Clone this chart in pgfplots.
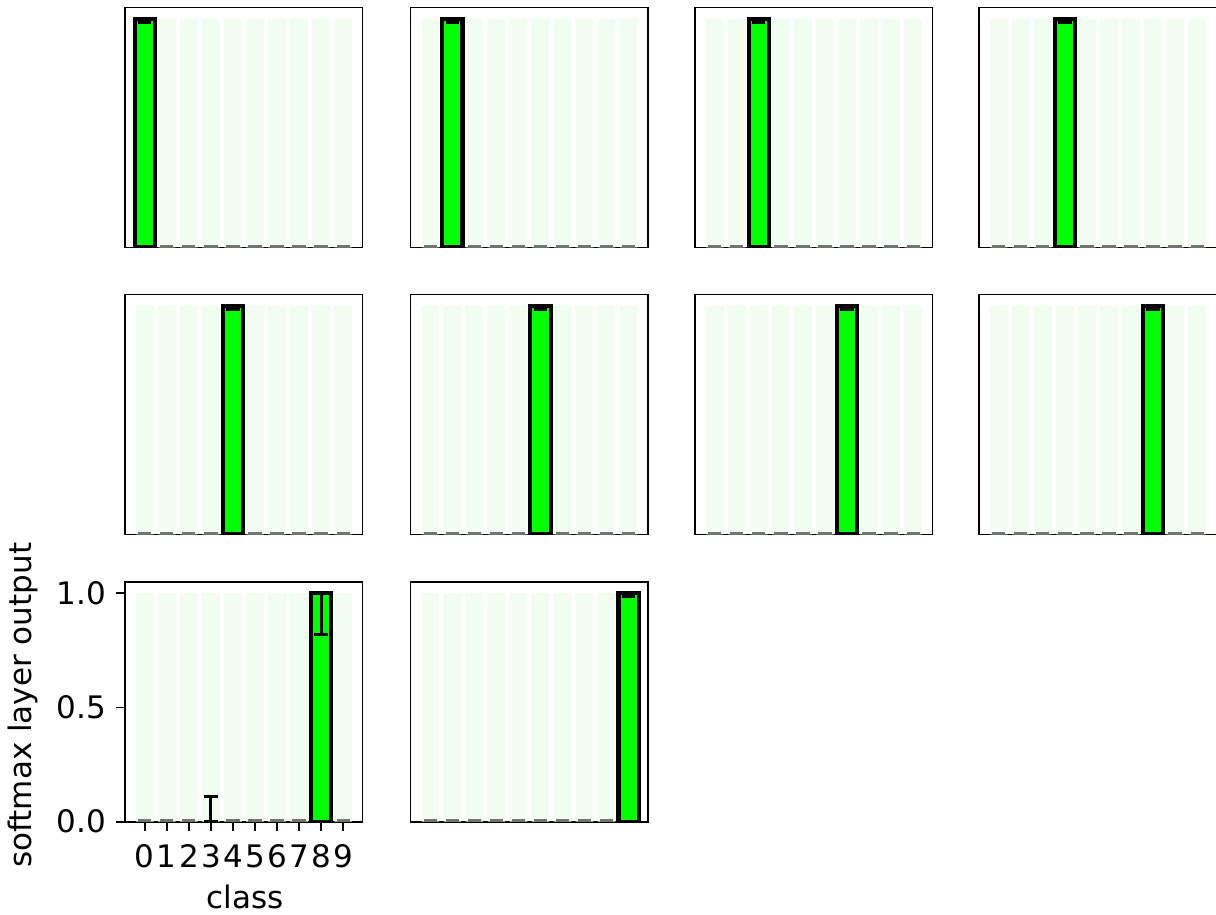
\documentclass[border=0pt]{standalone}
\usepackage{fontspec}
\setmainfont{DejaVu Sans}
\usepackage{pgfplots}
\pgfplotsset{compat=1.18}
\usepackage{pgfplotstable}

\definecolor{barlime}{RGB}{0,255,0}
\definecolor{bgstripe}{RGB}{240,253,240}
\newcommand{\lblfont}{\fontsize{15.5}{17}\selectfont}

% one full-height pale stripe behind every class
\pgfplotstableread{
x y
0 1
1 1
2 1
3 1
4 1
5 1
6 1
7 1
8 1
9 1
}\stripedata

\pgfplotsset{
  panel/.style={scale only axis, width=118.75pt, height=120pt,
    xmin=-0.9, xmax=9.88, ymin=0, ymax=1.05,
    xtick=\empty, ytick=\empty,
    axis line style={line width=0.9pt, black},
    anchor=south west},
  stripes/.style={ybar, bar width=0.8, bar shift=0pt, fill=bgstripe, draw=none},
  topbar/.style={ybar, bar width=0.92, bar shift=0pt, fill=barlime, draw=black, line width=2.1pt},
  errs/.style={draw=none, mark=none,
    error bars/.cd, y dir=both, y explicit,
    error bar style={line width=1.5pt, draw=black},
    error mark options={rotate=90, line width=1.5pt, mark size=3.3pt, draw=black}},
  zcaps/.style={only marks, mark=-, mark size=3.3pt, mark options={line width=1.3pt, draw=black!55}},
}

\begin{document}
\begin{tikzpicture}
\useasboundingbox (0,0) rectangle (608pt,457.5pt);

% ---------- row 1 ----------
\begin{axis}[panel, at={(62.5pt,333.75pt)}]
\addplot[stripes] table {\stripedata};
\addplot[topbar] coordinates {(0,1.0)};
\addplot[zcaps] coordinates {(1,0.004)(2,0.004)(3,0.004)(4,0.004)(5,0.004)(6,0.004)(7,0.004)(8,0.004)(9,0.004)};
\addplot[errs] table[x=x, y=y, y error plus=ep, y error minus=em] {
x y ep em
0 1.0 0 0.015
};
\end{axis}

\begin{axis}[panel, at={(205.25pt,333.75pt)}]
\addplot[stripes] table {\stripedata};
\addplot[topbar] coordinates {(1,1.0)};
\addplot[zcaps] coordinates {(0,0.004)(2,0.004)(3,0.004)(4,0.004)(5,0.004)(6,0.004)(7,0.004)(8,0.004)(9,0.004)};
\addplot[errs] table[x=x, y=y, y error plus=ep, y error minus=em] {
x y ep em
1 1.0 0 0.015
};
\end{axis}

\begin{axis}[panel, at={(347.5pt,333.75pt)}]
\addplot[stripes] table {\stripedata};
\addplot[topbar] coordinates {(2,1.0)};
\addplot[zcaps] coordinates {(0,0.004)(1,0.004)(3,0.004)(4,0.004)(5,0.004)(6,0.004)(7,0.004)(8,0.004)(9,0.004)};
\addplot[errs] table[x=x, y=y, y error plus=ep, y error minus=em] {
x y ep em
2 1.0 0 0.015
};
\end{axis}

\begin{axis}[panel, at={(489.5pt,333.75pt)}]
\addplot[stripes] table {\stripedata};
\addplot[topbar] coordinates {(3,1.0)};
\addplot[zcaps] coordinates {(0,0.004)(1,0.004)(2,0.004)(4,0.004)(5,0.004)(6,0.004)(7,0.004)(8,0.004)(9,0.004)};
\addplot[errs] table[x=x, y=y, y error plus=ep, y error minus=em] {
x y ep em
3 1.0 0 0.015
};
\end{axis}

% ---------- row 2 ----------
\begin{axis}[panel, at={(62.5pt,190.25pt)}]
\addplot[stripes] table {\stripedata};
\addplot[topbar] coordinates {(4,1.0)};
\addplot[zcaps] coordinates {(0,0.004)(1,0.004)(2,0.004)(3,0.004)(5,0.004)(6,0.004)(7,0.004)(8,0.004)(9,0.004)};
\addplot[errs] table[x=x, y=y, y error plus=ep, y error minus=em] {
x y ep em
4 1.0 0 0.015
};
\end{axis}

\begin{axis}[panel, at={(205.25pt,190.25pt)}]
\addplot[stripes] table {\stripedata};
\addplot[topbar] coordinates {(5,1.0)};
\addplot[zcaps] coordinates {(0,0.004)(1,0.004)(2,0.004)(3,0.004)(4,0.004)(6,0.004)(7,0.004)(8,0.004)(9,0.004)};
\addplot[errs] table[x=x, y=y, y error plus=ep, y error minus=em] {
x y ep em
5 1.0 0 0.015
};
\end{axis}

\begin{axis}[panel, at={(347.5pt,190.25pt)}]
\addplot[stripes] table {\stripedata};
\addplot[topbar] coordinates {(6,1.0)};
\addplot[zcaps] coordinates {(0,0.004)(1,0.004)(2,0.004)(3,0.004)(4,0.004)(5,0.004)(7,0.004)(8,0.004)(9,0.004)};
\addplot[errs] table[x=x, y=y, y error plus=ep, y error minus=em] {
x y ep em
6 1.0 0 0.015
};
\end{axis}

\begin{axis}[panel, at={(489.5pt,190.25pt)}]
\addplot[stripes] table {\stripedata};
\addplot[topbar] coordinates {(7,1.0)};
\addplot[zcaps] coordinates {(0,0.004)(1,0.004)(2,0.004)(3,0.004)(4,0.004)(5,0.004)(6,0.004)(8,0.004)(9,0.004)};
\addplot[errs] table[x=x, y=y, y error plus=ep, y error minus=em] {
x y ep em
7 1.0 0 0.015
};
\end{axis}

% ---------- row 3 ----------
\begin{axis}[panel, at={(62.5pt,46.65pt)},
  xtick={0,1,2,3,4,5,6,7,8,9},
  ytick={0,0.5,1}, yticklabels={0.0,0.5,1.0},
  tick pos=left, tick align=outside, major tick length=4.5pt,
  tick style={line width=0.9pt, black},
  /pgf/number format/assume math mode=true,
  tick label style={font=\lblfont},
  xticklabel style={yshift=-3.5pt},
  yticklabel style={xshift=-1.5pt},
  label style={font=\lblfont},
  xlabel={class}, ylabel={softmax layer output},
  xlabel style={at={(axis description cs:0.505,-0.314)}, anchor=center},
  ylabel style={at={(axis description cs:-0.43,0.485)}, anchor=center, rotate=0}]
\addplot[stripes] table {\stripedata};
\addplot[topbar] coordinates {(8,1.0)};
\addplot[zcaps] coordinates {(0,0.004)(1,0.004)(2,0.004)(4,0.004)(5,0.004)(6,0.004)(7,0.004)(9,0.004)};
\addplot[errs] table[x=x, y=y, y error plus=ep, y error minus=em] {
x y ep em
3 0.003 0.107 0.003
8 1.0 0 0.18
};
\end{axis}

\begin{axis}[panel, at={(205.25pt,46.65pt)}]
\addplot[stripes] table {\stripedata};
\addplot[topbar] coordinates {(9,1.0)};
\addplot[zcaps] coordinates {(0,0.004)(1,0.004)(2,0.004)(3,0.004)(4,0.004)(5,0.004)(6,0.004)(7,0.004)(8,0.004)};
\addplot[errs] table[x=x, y=y, y error plus=ep, y error minus=em] {
x y ep em
9 1.0 0 0.015
};
\end{axis}
\end{tikzpicture}
\end{document}
